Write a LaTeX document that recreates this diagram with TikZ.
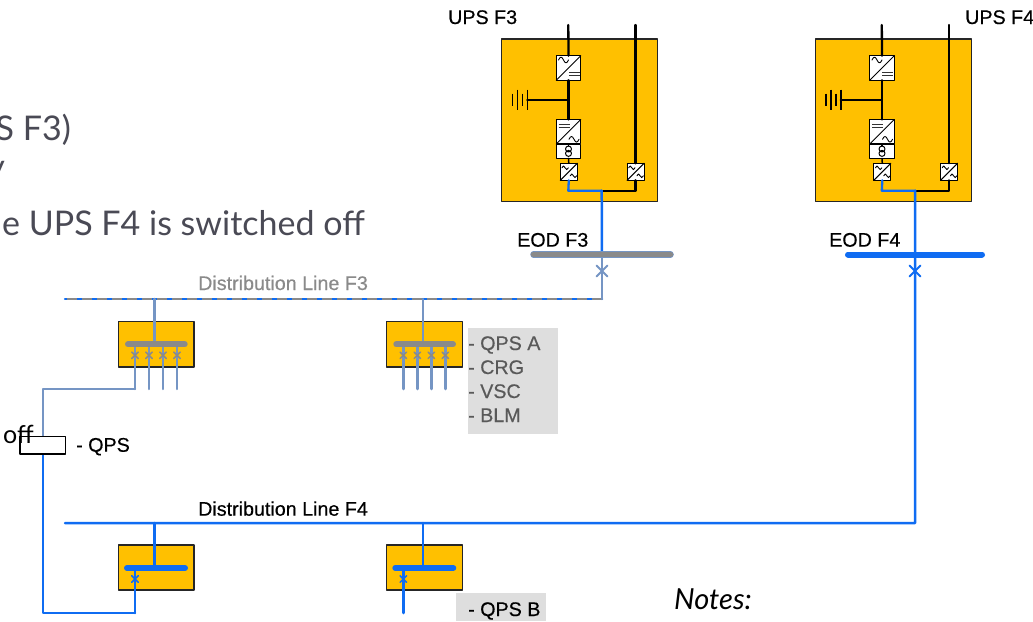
\documentclass[tikz,border=0pt]{standalone}
\usepackage{fontspec}
\setmainfont{Liberation Sans}
\newfontfamily\labfont[FakeBold=0.4]{Liberation Sans}
\newfontfamily\slidefont{Lato}
\usepackage{tikz}
\usetikzlibrary{shapes}
\usetikzlibrary{calc}
\definecolor{upsgold}{HTML}{FFC000}
\definecolor{lineblue}{HTML}{0F6CF2}
\definecolor{linegray}{HTML}{8A8A8A}
\definecolor{linemix}{HTML}{7595C4}
\definecolor{slidetext}{HTML}{4A4A55}
\definecolor{notebox}{HTML}{DEDEDE}
\tikzset{
	upsbox/.style={draw=black!85,fill=upsgold,line width=1.3pt,anchor=north west,inner sep=0pt,outer sep=0pt},
	conv/.style={draw=black,fill=white,line width=1pt,inner sep=0pt,outer sep=0pt,minimum width=24.5pt,minimum height=24.5pt},
	smallconv/.style={conv,minimum width=17pt,minimum height=17pt},
	brk/.style={cross out,draw,inner sep=0pt,outer sep=0pt,minimum size=#1},
	lab/.style={font=\labfont\fontsize{19.7}{22}\selectfont,inner sep=0pt,anchor=base west},
	slide/.style={font=\slidefont\fontsize{34}{40}\selectfont,text=slidetext,inner sep=0pt,anchor=base east},
}
\begin{document}
\begin{tikzpicture}[line cap=round,line join=round,x=1pt,y=-1pt]
	\clip (0,0) rectangle (1033,621);
	\fill[white] (0,0) rectangle (1033,621);
	% slide text
	\node[slide] (txta) at (71,140) {S F3)};
	\node[slide] (txtb) at (5,178) {y};
	\node[slide] (txtc) at (365,235) {e UPS F4 is switched off};
	\node[anchor=base east,font=\slidefont\itshape\fontsize{29}{36}\selectfont,inner sep=0pt] (notes) at (752,609) {Notes:};
	% the two UPS
	\foreach \n/\dx in {F3/0,F4/313.5} {
	\begin{scope}[shift={(\dx,0)}]
	\node[upsbox,minimum width=156pt,minimum height=162.5pt] (ups\n) at (501.7,39) {};
	\coordinate (ina\n) at (568.3,25);
	\coordinate (inb\n) at (635.5,25);
	\node[conv] (rect\n) at (568.5,68) {};
	\node[conv] (inv\n) at (568.5,131.7) {};
	\node[conv,minimum height=14.3pt] (trf\n) at (568.5,151.2) {};
	\node[smallconv] (ssa\n) at (568.8,171.8) {};
	\node[smallconv] (ssb\n) at (635.5,171.8) {};
	\coordinate (bat\n) at (527.3,99.7);
	\coordinate (dcj\n) at (568.3,99.7);
	\coordinate (outa\n) at (568.3,190.7);
	\coordinate (outb\n) at (635.5,190.7);
	\coordinate (outc\n) at (601.7,190.7);
	\draw[line width=2.3pt] (ina\n) -- (rect\n.north);
	\draw[line width=2.3pt] (rect\n.south) -- (inv\n.north);
	\draw[line width=2.3pt] (dcj\n) -- (bat\n);
	\draw[line width=2.3pt] (inb\n) -- (ssb\n.north);
	\draw[line width=1.5pt] (trf\n.south) -- (ssa\n.north);
	\draw[line width=2.3pt] (ssb\n.south) -- (outb\n) -- (outc\n);
	\draw[line width=2.3pt,lineblue] (ssa\n.south) -- (outa\n) -- (outc\n);
	% battery plates
	\foreach \x/\h in {512.3/6,517.3/10,522.3/6,527.3/10}
	\draw[line width=1.6pt,line cap=butt] (\x,99.7-\h) -- (\x,99.7+\h);
	% converter symbols
	\foreach \b in {rect\n,inv\n,ssa\n,ssb\n}
	\draw[line width=1pt] (\b.south west) -- (\b.north east);
	\foreach \b/\w/\tx/\ty in {rect\n/5/-5/-8,ssa\n/3.2/-3.7/-4,ssb\n/3.2/-3.7/-4,inv\n/5/5.5/7.6,ssa\n/3.2/4.6/4,ssb\n/3.2/4.6/4}
	\draw[line width=0.9pt] ($(\b.center)+(\tx,\ty)+(-\w,0)$) .. controls +(0.35*\w,-0.75*\w) and +(-0.35*\w,-0.75*\w) .. ++(\w,0) .. controls +(0.35*\w,0.75*\w) and +(-0.35*\w,0.75*\w) .. ++(\w,0);
	\draw[line width=0.9pt,line cap=butt,black!80] ($(rect\n.center)+(0.3,4.3)$) -- ++(11,0) ($(rect\n.center)+(0.3,7.7)$) -- ++(11,0);
	\draw[line width=0.9pt,line cap=butt,black!80] ($(inv\n.center)+(-10,-7.4)$) -- ++(11,0) ($(inv\n.center)+(-10,-4)$) -- ++(11,0);
	\draw[line width=1pt] ($(trf\n.center)+(0,-2.2)$) circle (3pt) ($(trf\n.center)+(0,2.2)$) circle (3pt);
	\draw[line width=1.2pt] (trf\n.north) -- ++(0,2);
	\end{scope}
	}
	\node[lab] (lblupsa) at (448,24) {UPS F3};
	\node[lab] (lblupsb) at (965,24) {UPS F4};
	\node[lab] (lbleoda) at (517,246.7) {EOD F3};
	\node[lab] (lbleodb) at (829,246.7) {EOD F4};
	% distribution line F3, feeder off
	\coordinate (eoda) at (602,254.5);
	\coordinate (cora) at (602,299);
	\coordinate (enda) at (65,299);
	\draw[lineblue,line width=2.5pt] (outcF3) -- (eoda);
	\draw[lineblue,line width=2.5pt] (cora) -- (enda);
	\draw[linegray,line width=2.5pt,line cap=butt,dash pattern=on 10pt off 5pt] (cora) -- (enda);
	\draw[linemix,line width=2.5pt] (eoda) -- (cora);
	\draw[linemix,line width=6.5pt] (533.5,254.5) -- (670.5,254.5);
	\draw[linegray,line width=5.5pt] (533.5,254.5) -- (670.5,254.5);
	\node[brk=11pt,linemix,line width=2pt] (brka) at (602,271) {};
	\node[lab,text=linegray] (lbldisa) at (198,290) {Distribution Line F3};
	% distribution line F4
	\coordinate (eodb) at (915,254.5);
	\coordinate (corb) at (915,523);
	\coordinate (endb) at (65,523);
	\draw[lineblue,line width=2.5pt] (outcF4) -- (eodb) -- (corb) -- (endb);
	\draw[lineblue,line width=6pt] (848,254.5) -- (982,254.5);
	\node[brk=11pt,lineblue,line width=2pt] (brkb) at (915,271) {};
	\node[lab] (lbldisb) at (198,515.7) {Distribution Line F4};
	% panels on F3
	\foreach \p/\px in {a/0,b/268.3} {
	\begin{scope}[shift={(\px,0)}]
	\node[upsbox,minimum width=75.7pt,minimum height=45.3pt] (pan\p) at (118.3,321.7) {};
	\coordinate (top\p) at (154.7,299);
	\coordinate (bar\p) at (154.7,344.3);
	\draw[linemix,line width=2.5pt] (top\p) -- (bar\p);
	\foreach \i/\x in {1/135,2/149,3/163,4/177} {
	\coordinate (fda\p\i) at (\x,344.3);
	\coordinate (fdb\p\i) at (\x,389);
	\draw[linemix,line width=2.5pt] (fda\p\i) -- (fdb\p\i);
	\node[brk=6.5pt,linegray,line width=1.5pt] (bra\p\i) at (\x,355.3) {};
	}
	\draw[linegray,line width=6pt] (128,344.3) -- (184.7,344.3);
	\end{scope}
	}
	% panels on F4
	\foreach \p/\px in {a/0,b/268.3} {
	\begin{scope}[shift={(\px,0)}]
	\node[upsbox,minimum width=75.7pt,minimum height=45pt] (pbn\p) at (118.3,545) {};
	\coordinate (tpb\p) at (154.7,523);
	\coordinate (bbr\p) at (154.7,568);
	\coordinate (fbt\p) at (135,568);
	\coordinate (fbe\p) at (135,613);
	\draw[lineblue,line width=2.5pt] (tpb\p) -- (bbr\p);
	\draw[lineblue,line width=2.5pt] (fbt\p) -- (fbe\p);
	\node[brk=6.5pt,lineblue,line width=1.5pt] (brb\p) at (135,579) {};
	\draw[lineblue,line width=6pt] (127,568) -- (185,568);
	\end{scope}
	}
	% QPS with its two supplies
	\coordinate (qpsc) at (43,389);
	\coordinate (qpsa) at (43,436.7);
	\coordinate (qpsb) at (43,454);
	\coordinate (qpsd) at (43,613);
	\draw[linemix,line width=2.5pt] (fdba1) -- (qpsc) -- (qpsa);
	\draw[lineblue,line width=2.5pt] (qpsb) -- (qpsd) -- (fbea);
	\node[draw=black,fill=white,line width=1.3pt,anchor=north west,inner sep=0pt,outer sep=0pt,minimum width=45.7pt,minimum height=17.3pt] (qps) at (20,436.7) {};
	\node[anchor=base west,font=\slidefont\fontsize{25}{30}\selectfont,inner sep=0pt] (off) at (3,443) {off};
	\node[lab] (lblqps) at (76,451.7) {- QPS};
	% load lists
	\node[fill=notebox,anchor=north west,inner sep=0pt,minimum width=89.3pt,minimum height=106pt] (listA) at (468,327.7) {};
	\foreach \t/\y in {- QPS A/350,- CRG/374,- VSC/398,- BLM/422}
	\node[lab,text=black!65] at (468,\y) {\t};
	\node[fill=notebox,anchor=north west,inner sep=0pt,minimum width=90pt,minimum height=28pt] (listB) at (456,593) {};
	\node[lab] (lblqpsb) at (468,616) {- QPS B};
\end{tikzpicture}
\end{document}
